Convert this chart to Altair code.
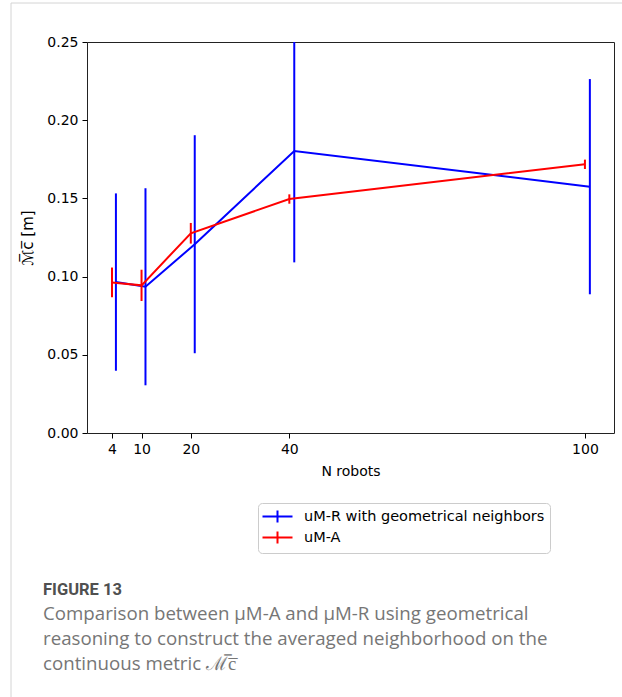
import altair as alt
import pandas as pd

# ---- data ----
n_robots = [4, 10, 20, 40, 100]
series_names = ["uM-R with geometrical neighbors", "uM-A"]
series_colors = ["#0000ff", "#ff0000"]

blue_x = [4.8, 10.8, 20.8, 41.0, 101.0]
blue_mean = [0.0965, 0.0935, 0.1207, 0.1803, 0.1575]
blue_err = [0.0567, 0.0630, 0.0697, 0.0712, 0.0688]

red_mean = [0.0963, 0.0944, 0.1277, 0.1496, 0.1718]
red_err = [0.0095, 0.0100, 0.0066, 0.0030, 0.0030]

x_ticks = [4, 10, 20, 40, 100]
y_ticks = [0.0, 0.05, 0.10, 0.15, 0.20, 0.25]

caption_head = "FIGURE 13"
caption_lines = [
    "Comparison between \u03bcM-A and \u03bcM-R using geometrical",
    "reasoning to construct the averaged neighborhood on the",
    "continuous metric \u2133\u0305c\u0305",
]

blue_df = pd.DataFrame({
    "series": series_names[0],
    "n": blue_x,
    "mean": blue_mean,
    "lo": [m - e for m, e in zip(blue_mean, blue_err)],
    "hi": [m + e for m, e in zip(blue_mean, blue_err)],
})
red_df = pd.DataFrame({
    "series": series_names[1],
    "n": n_robots,
    "mean": red_mean,
    "lo": [m - e for m, e in zip(red_mean, red_err)],
    "hi": [m + e for m, e in zip(red_mean, red_err)],
})

FONT = "DejaVu Sans"
xscale = alt.Scale(domain=[-1.07, 105.9], nice=False, zero=False)
yscale = alt.Scale(domain=[0, 0.25], nice=False, zero=False)
xaxis = alt.Axis(values=x_ticks, title="N robots", grid=False, domain=False,
                 tickSize=5, tickColor="#000", labelPadding=4, labelFont=FONT,
                 labelFontSize=14, labelColor="#000", titleFont=FONT,
                 titleFontSize=14, titleFontWeight="normal", titleColor="#000",
                 titlePadding=8, labelFlush=False, labelOverlap=False)
yaxis = alt.Axis(values=y_ticks, format=".2f", title="\u2133\u0305c\u0305  [m]",
                 grid=False, domain=False, tickSize=5, tickColor="#000",
                 labelPadding=4, labelFont=FONT, labelFontSize=14,
                 labelColor="#000", titleFont=FONT, titleFontSize=15,
                 titleFontWeight="normal", titleColor="#000", titlePadding=11,
                 labelFlush=False)
color = alt.Color(
    "series:N",
    scale=alt.Scale(domain=series_names, range=series_colors),
    legend=alt.Legend(
        title=None, orient="none", legendX=171, legendY=461,
        symbolType="M-2,0H2M0,-0.8V0.8", symbolSize=225, symbolOffset=6,
        symbolStrokeWidth=2, symbolFillColor="transparent",
        labelFont=FONT, labelFontSize=14.5, labelColor="#000", labelOffset=18,
        labelLimit=0, padding=5, rowPadding=0, strokeColor="#cccccc",
        cornerRadius=4, fillColor="#ffffff",
    ),
)


def series_layers(df):
    base = alt.Chart(df)
    line = base.mark_line(strokeWidth=2, clip=True).encode(
        x=alt.X("n:Q", scale=xscale, axis=xaxis),
        y=alt.Y("mean:Q", scale=yscale, axis=yaxis),
        color=color,
    )
    bars = base.mark_rule(strokeWidth=2, clip=True).encode(
        x=alt.X("n:Q", scale=xscale),
        y=alt.Y("lo:Q", scale=yscale),
        y2="hi:Q",
        color=color,
    )
    return [line, bars]


one = pd.DataFrame({"a": [0]})
frame_left = alt.Chart(one).mark_rule(color="#d4d4d4", strokeWidth=1).encode(
    x=alt.value(-76), y=alt.value(-39), y2=alt.value(660))
frame_top = alt.Chart(one).mark_rule(color="#d4d4d4", strokeWidth=1).encode(
    x=alt.value(-76), x2=alt.value(540), y=alt.value(-39))

head = alt.Chart(one).mark_text(
    align="left", baseline="alphabetic", font="Roboto", fontSize=16.5,
    fontWeight="bold", color="#505050").encode(
    x=alt.value(-44), y=alt.value(553), text=alt.value(caption_head))
body = alt.Chart(one).mark_text(
    align="left", baseline="alphabetic", font="Open Sans", fontSize=18.7,
    color="#767676", lineHeight=25).encode(
    x=alt.value(-44), y=alt.value(578), text=alt.value(caption_lines))

chart = alt.layer(
    frame_left, frame_top,
    *series_layers(blue_df), *series_layers(red_df),
    head, body,
).properties(
    width=527, height=391,
    padding={"left": 87, "top": 42, "right": 8, "bottom": 264},
    autosize=alt.AutoSizeParams(type="none"),
    background="#ffffff",
).configure_view(
    stroke="#222222", strokeWidth=1
)

chart.save("out.html", embed_options={"renderer": "svg", "actions": False})
